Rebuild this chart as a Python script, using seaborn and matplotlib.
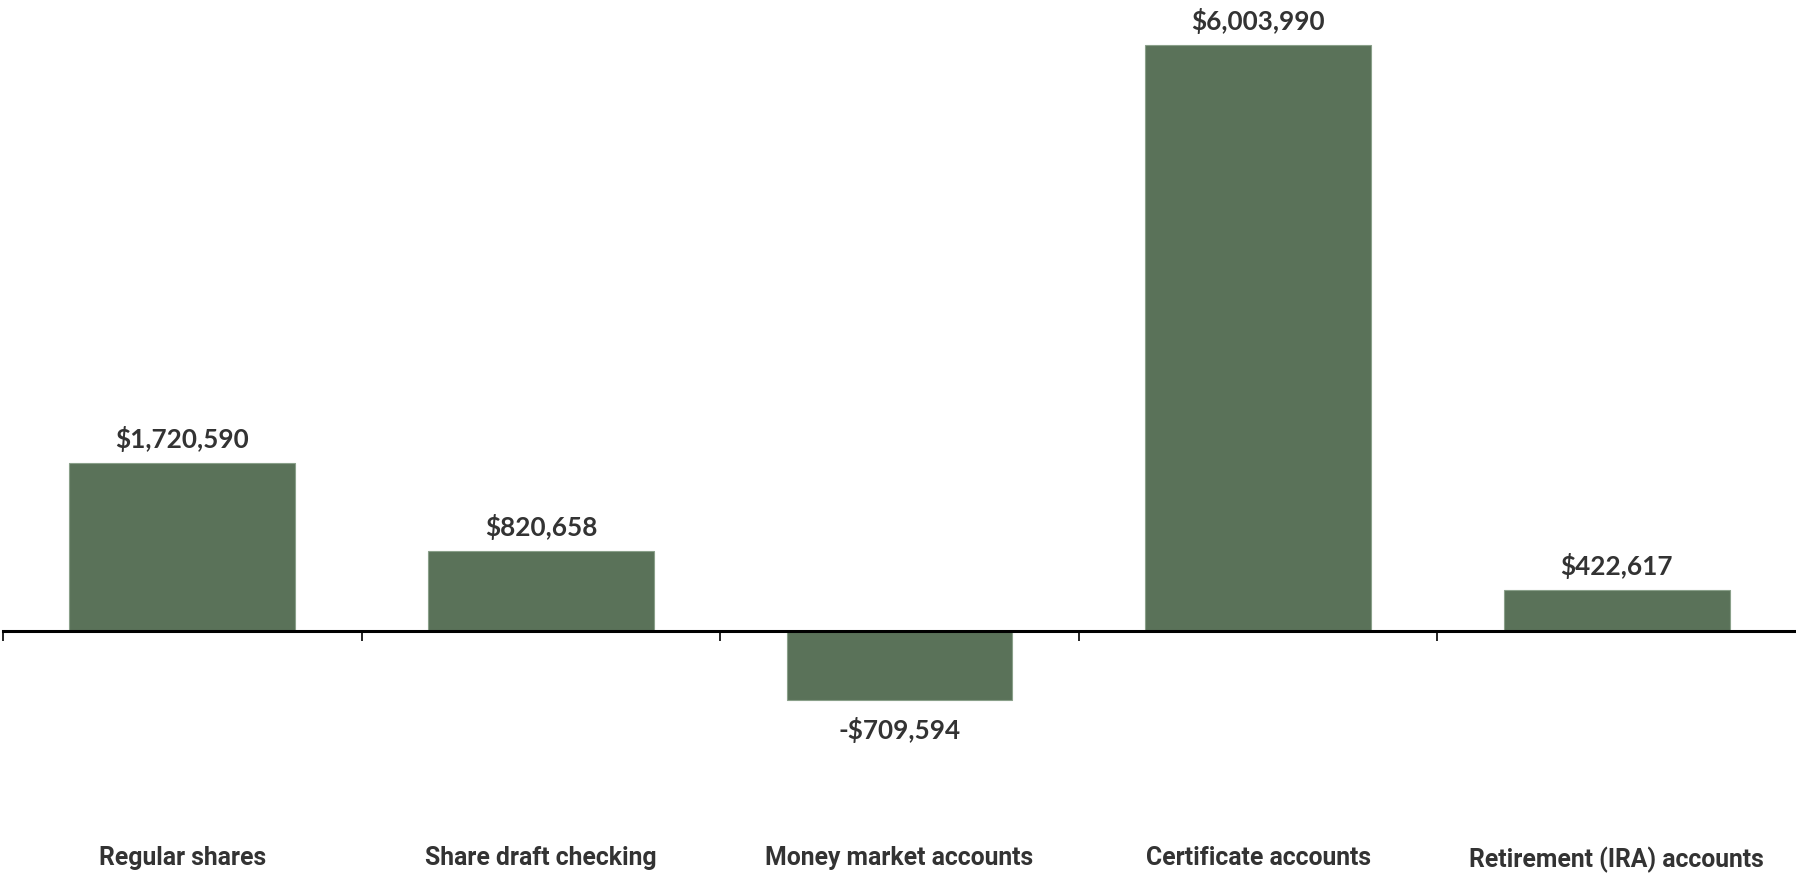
import matplotlib
matplotlib.use("Agg")
import matplotlib.pyplot as plt
from matplotlib.ticker import FixedLocator
import seaborn as sns
import pandas as pd

categories = ["Regular shares", "Share draft checking", "Money market accounts",
              "Certificate accounts", "Retirement (IRA) accounts"]
changes = [1720590, 820658, -709594, 6003990, 422617]

BAR_COLOR = "#5a7259"
TEXT_COLOR = "#333333"

sns.set_theme(style="white")
plt.rcParams["font.family"] = ["Lato", "DejaVu Sans"]

df = pd.DataFrame({"category": categories, "change": changes})

fig = plt.figure(figsize=(17.96, 8.74), dpi=100)
ax = fig.add_axes([0.0017, 0.0, 0.9983, 1.0])

sns.barplot(data=df, x="category", y="change", color=BAR_COLOR, saturation=1,
            width=0.63, edgecolor="#8aa08a", linewidth=0.8, ax=ax)

ax.set_ylim(-2.49e6, 6.465e6)
ax.set_xlim(-0.5, len(categories) - 0.5)


def money(v):
    return f"-${abs(v):,.0f}" if v < 0 else f"${v:,.0f}"


bars = ax.containers[0]
for bar, v in zip(bars, changes):
    x = bar.get_x() + bar.get_width() / 2
    if v >= 0:
        ax.annotate(money(v), (x, v), xytext=(0, 8), textcoords="offset points",
                    ha="center", va="bottom", fontsize=18.8, fontweight="bold",
                    color=TEXT_COLOR)
    else:
        ax.annotate(money(v), (x, v), xytext=(0, -12), textcoords="offset points",
                    ha="center", va="top", fontsize=18.8, fontweight="bold",
                    color=TEXT_COLOR)

# Baseline at zero with boundary ticks between categories
for side in ("left", "right", "top"):
    ax.spines[side].set_visible(False)
ax.spines["bottom"].set_position(("data", 0))
ax.spines["bottom"].set_linewidth(2.2)
ax.spines["bottom"].set_color("black")
ax.set_yticks([])
ax.set_xlabel("")
ax.set_ylabel("")
ax.xaxis.set_minor_locator(FixedLocator([i - 0.5 for i in range(len(categories))]))
ax.tick_params(axis="x", which="minor", bottom=True, length=7, width=1.2,
               color="black", direction="out")
ax.tick_params(axis="x", which="major", length=0, pad=155, labelcolor=TEXT_COLOR)
for lbl in ax.get_xticklabels():
    lbl.set_fontfamily(["Roboto", "DejaVu Sans"])
    lbl.set_fontsize(17.8)
    lbl.set_fontweight("bold")

fig.savefig("out.png", dpi=100)
